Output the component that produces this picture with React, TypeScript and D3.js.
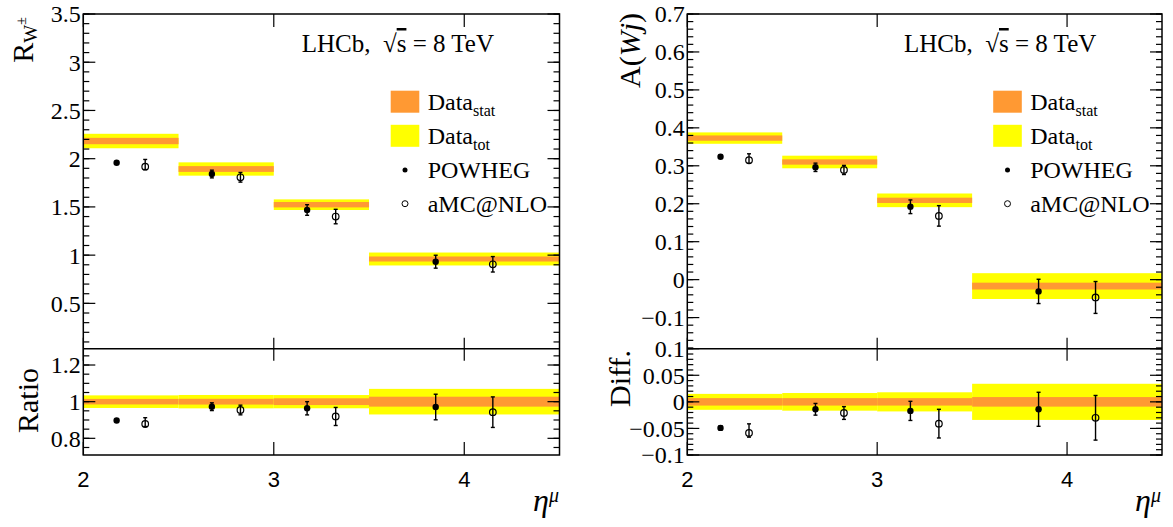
import React from "react";
import * as d3 from "d3";

// ---------- data ----------
const binEdges = [2, 2.5, 3, 3.5, 4.5];

// R_W± (left)
const rData = [2.183, 1.893, 1.523, 0.96];
const rStat = [0.033, 0.03, 0.028, 0.026];
const rTot = [0.075, 0.069, 0.055, 0.067];
const powhegEta = [2.175, 2.675, 3.175, 3.85];
const amcEta = [2.325, 2.825, 3.325, 4.15];
const rPowheg = [1.958, 1.841, 1.468, 0.932];
const rPowhegErr = [0.01, 0.04, 0.055, 0.067];
const rAmc = [1.917, 1.807, 1.4, 0.905];
const rAmcUp = [0.075, 0.05, 0.075, 0.08];
const rAmcDn = [0.03, 0.05, 0.075, 0.08];

// A(Wj) (right)
const aData = [0.373, 0.31, 0.209, -0.017];
const aStat = [0.007, 0.007, 0.007, 0.009];
const aTot = [0.015, 0.0166, 0.018, 0.034];
const aPowheg = [0.324, 0.296, 0.192, -0.031];
const aPowhegErr = [0.004, 0.011, 0.018, 0.032];
const aAmc = [0.3146, 0.289, 0.168, -0.047];
const aAmcUp = [0.017, 0.012, 0.027, 0.042];
const aAmcDn = [0.008, 0.012, 0.027, 0.042];

// tick labels
const xTicks = [2, 3, 4];
const rTopTicks = [0.5, 1, 1.5, 2, 2.5, 3, 3.5];
const rRatioTicks = [0.8, 1, 1.2];
const aTopTicks = [-0.1, 0, 0.1, 0.2, 0.3, 0.4, 0.5, 0.6, 0.7];
const aDiffTicks = [-0.1, -0.05, 0, 0.05, 0.1];

const legendLabels = ["Data", "Data", "POWHEG", "aMC@NLO"];
const legendSubs = ["stat", "tot"];

// ---------- layout ----------
const W = 1173;
const H = 527;
const yTop = 14;
const yMid = 348.7;
const yBot = 455;
const ORANGE = "#ff9933";
const YELLOW = "#ffff00";
const FONT = "'Liberation Serif', 'DejaVu Serif', serif";
const SANS = "'Liberation Sans', Arial, sans-serif";

const fmt = (v: number) => {
  const s = String(+v.toFixed(3));
  return v < 0 ? "\u2212" + s.slice(1) : s;
};

function Bands({ x, y, center, stat, tot }: any) {
  return (
    <g>
      {binEdges.slice(0, -1).map((e, i) => {
        const xa = x(e);
        const xb = x(binEdges[i + 1]);
        const c = center(i);
        return (
          <g key={i}>
            <rect x={xa} width={xb - xa} y={y(c + tot(i))} height={y(c - tot(i)) - y(c + tot(i))} fill={YELLOW} />
            <rect x={xa} width={xb - xa} y={y(c + stat(i))} height={y(c - stat(i)) - y(c + stat(i))} fill={ORANGE} />
          </g>
        );
      })}
    </g>
  );
}

function Points({ x, y, eta, val, up, dn, open }: any) {
  return (
    <g>
      {eta.map((e: number, i: number) => {
        const cx = x(e);
        const cy = y(val[i]);
        const y1 = y(val[i] + up[i]);
        const y2 = y(val[i] - dn[i]);
        return (
          <g key={i} stroke="#000" strokeWidth={1.4}>
            <line x1={cx} x2={cx} y1={y1} y2={y2} />
            <line x1={cx - 2} x2={cx + 2} y1={y1} y2={y1} />
            <line x1={cx - 2} x2={cx + 2} y1={y2} y2={y2} />
            {open ? (
              <circle cx={cx} cy={cy} r={3.3} fill="none" strokeWidth={1.2} />
            ) : (
              <circle cx={cx} cy={cy} r={3.2} fill="#000" stroke="none" />
            )}
          </g>
        );
      })}
    </g>
  );
}

function YAxis({ y, x0, x1, majors, minorStep, domain }: any) {
  const [lo, hi] = domain;
  const start = Math.ceil(lo / minorStep - 1e-6) * minorStep;
  const minors = d3.range(start, hi + 1e-9, minorStep);
  return (
    <g stroke="#000" strokeWidth={1.2}>
      {minors.map((v: number, i: number) => (
        <g key={"m" + i}>
          <line x1={x0} x2={x0 + 6} y1={y(v)} y2={y(v)} />
          <line x1={x1} x2={x1 - 6} y1={y(v)} y2={y(v)} />
        </g>
      ))}
      {majors.map((v: number, i: number) => (
        <g key={"M" + i}>
          <line x1={x0} x2={x0 + 12} y1={y(v)} y2={y(v)} />
          <line x1={x1} x2={x1 - 12} y1={y(v)} y2={y(v)} />
          <text
            x={x0 - 2.5}
            y={y(v)}
            dy="0.35em"
            textAnchor="end"
            stroke="none"
            fill="#000"
            fontSize={24}
            fontFamily={FONT}
          >
            {fmt(v)}
          </text>
        </g>
      ))}
    </g>
  );
}

function XTicks({ x }: any) {
  return (
    <g stroke="#000" strokeWidth={1.2}>
      {xTicks.map((v, i) => (
        <g key={i}>
          <line x1={x(v)} x2={x(v)} y1={yTop} y2={yTop + 13} />
          <line x1={x(v)} x2={x(v)} y1={yMid} y2={yMid - 11} />
          <line x1={x(v)} x2={x(v)} y1={yMid} y2={yMid + 12} />
          <line x1={x(v)} x2={x(v)} y1={yBot} y2={yBot - 13} />
          <text x={x(v)} y={487} textAnchor="middle" stroke="none" fill="#000" fontSize={22} fontFamily={SANS}>
            {v}
          </text>
        </g>
      ))}
    </g>
  );
}

function Frame({ x0, x1 }: any) {
  return (
    <g fill="none" stroke="#000" strokeWidth={1.5}>
      <rect x={x0} y={yTop} width={x1 - x0} height={yBot - yTop} />
      <line x1={x0} x2={x1} y1={yMid} y2={yMid} />
    </g>
  );
}

function Legend({ dx }: any) {
  const bx = 390.7 + dx;
  const tx = 427.7 + dx;
  const rows = [101.7, 135.8, 170, 203.7];
  return (
    <g fontFamily={FONT} fontSize={24} fill="#000">
      <rect x={bx} y={rows[0] - 11} width={28.6} height={22} fill={ORANGE} />
      <rect x={bx} y={rows[1] - 11} width={28.6} height={22} fill={YELLOW} />
      <circle cx={bx + 14.3} cy={rows[2]} r={2.5} fill="#000" />
      <circle cx={bx + 14.3} cy={rows[3]} r={3} fill="none" stroke="#000" strokeWidth={1} />
      {legendLabels.map((l, i) => (
        <text key={i} x={tx} y={rows[i] + 8}>
          {l}
          {i < 2 ? (
            <tspan fontSize={16} dy={6}>
              {legendSubs[i]}
            </tspan>
          ) : null}
        </text>
      ))}
    </g>
  );
}

function Lhcb({ x }: any) {
  return (
    <text x={x} y={52} fontFamily={FONT} fontSize={25} fill="#000">
      LHCb,{"\u00a0\u00a0"}
      <tspan>√</tspan>
      <tspan style={{ textDecoration: "overline" }}>s</tspan>
      {" = 8 TeV"}
    </text>
  );
}

function EtaLabel({ x }: any) {
  return (
    <text x={x} y={511} textAnchor="end" fontFamily={FONT} fontStyle="italic" fontSize={32} fill="#000">
      η<tspan fontSize={20} dy={-9}>μ</tspan>
    </text>
  );
}

export default function App() {
  const xL = d3.scaleLinear().domain([2, 4.5]).range([83.3, 559.5]);
  const yLT = d3.scaleLinear().domain([0.03, 3.5]).range([yMid, yTop]);
  const yLB = d3.scaleLinear().domain([0.709, 1.289]).range([yBot, yMid]);
  const xR = d3.scaleLinear().domain([2, 4.5]).range([687.3, 1162]);
  const yRT = d3.scaleLinear().domain([-0.182, 0.7]).range([yMid, yTop]);
  const yRB = d3.scaleLinear().domain([-0.1, 0.1]).range([yBot, yMid]);

  const ratio = (arr: number[]) => arr.map((v, i) => v / rData[i]);
  const diff = (arr: number[]) => arr.map((v, i) => v - aData[i]);

  return (
    <svg
      width={W}
      height={H}
      viewBox={`0 0 ${W} ${H}`}
      style={{ position: "absolute", left: 0, top: 0, background: "#fff" }}
    >
      <rect width={W} height={H} fill="#fff" />

      {/* ---------- left ---------- */}
      <Bands x={xL} y={yLT} center={(i: number) => rData[i]} stat={(i: number) => rStat[i]} tot={(i: number) => rTot[i]} />
      <Bands x={xL} y={yLB} center={() => 1} stat={(i: number) => rStat[i] / rData[i]} tot={(i: number) => rTot[i] / rData[i]} />
      <Frame x0={83.3} x1={559.5} />
      <YAxis y={yLT} x0={83.3} x1={559.5} majors={rTopTicks} minorStep={0.1} domain={[0.03, 3.5]} />
      <YAxis y={yLB} x0={83.3} x1={559.5} majors={rRatioTicks} minorStep={0.05} domain={[0.709, 1.289]} />
      <XTicks x={xL} />
      <Points x={xL} y={yLT} eta={powhegEta} val={rPowheg} up={rPowhegErr} dn={rPowhegErr} />
      <Points x={xL} y={yLT} eta={amcEta} val={rAmc} up={rAmcUp} dn={rAmcDn} open />
      <Points x={xL} y={yLB} eta={powhegEta} val={ratio(rPowheg)} up={ratio(rPowhegErr)} dn={ratio(rPowhegErr)} />
      <Points x={xL} y={yLB} eta={amcEta} val={ratio(rAmc)} up={ratio(rAmcUp)} dn={ratio(rAmcDn)} open />
      <Lhcb x={301.7} />
      <Legend dx={0} />
      <text transform="translate(33,17) rotate(-90)" textAnchor="end" fontFamily={FONT} fontSize={30} fill="#000">
        R<tspan fontSize={19} dy={4}>W</tspan>
        <tspan fontSize={14} dy={-11}>±</tspan>
      </text>
      <text transform="translate(38,400.5) rotate(-90)" textAnchor="middle" fontFamily={FONT} fontSize={30} fill="#000">
        Ratio
      </text>
      <EtaLabel x={559} />

      {/* ---------- right ---------- */}
      <Bands x={xR} y={yRT} center={(i: number) => aData[i]} stat={(i: number) => aStat[i]} tot={(i: number) => aTot[i]} />
      <Bands x={xR} y={yRB} center={() => 0} stat={(i: number) => aStat[i]} tot={(i: number) => aTot[i]} />
      <Frame x0={687.3} x1={1162} />
      <YAxis y={yRT} x0={687.3} x1={1162} majors={aTopTicks} minorStep={0.02} domain={[-0.182, 0.7]} />
      <YAxis y={yRB} x0={687.3} x1={1162} majors={aDiffTicks} minorStep={0.01} domain={[-0.1, 0.1]} />
      <XTicks x={xR} />
      <Points x={xR} y={yRT} eta={powhegEta} val={aPowheg} up={aPowhegErr} dn={aPowhegErr} />
      <Points x={xR} y={yRT} eta={amcEta} val={aAmc} up={aAmcUp} dn={aAmcDn} open />
      <Points x={xR} y={yRB} eta={powhegEta} val={diff(aPowheg)} up={aPowhegErr} dn={aPowhegErr} />
      <Points x={xR} y={yRB} eta={amcEta} val={diff(aAmc)} up={aAmcUp} dn={aAmcDn} open />
      <Lhcb x={904} />
      <Legend dx={602.5} />
      <text transform="translate(640,13) rotate(-90)" textAnchor="end" fontFamily={FONT} fontSize={30} fill="#000">
        A(<tspan fontStyle="italic">Wj</tspan>)
      </text>
      <text transform="translate(630,350) rotate(-90)" textAnchor="end" fontFamily={FONT} fontSize={30} fill="#000">
        Diff.
      </text>
      <EtaLabel x={1161} />
    </svg>
  );
}
